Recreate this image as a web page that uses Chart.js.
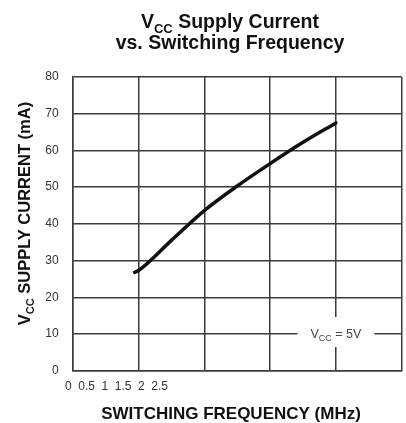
<!DOCTYPE html>
<html>
<head>
<meta charset="utf-8">
<script src="https://cdn.jsdelivr.net/npm/chart.js@4"></script>
<style>
  html, body { margin: 0; padding: 0; background: #fff; }
  #wrap { width: 406px; height: 423px; position: relative; }
</style>
</head>
<body>
<div id="wrap"><canvas id="chart"></canvas></div>
<script>
// curve (MHz -> mA)
const freqMHz = [0.47, 0.5, 0.75, 1.0, 1.25, 1.5, 1.75, 2.0];
const supplyMA = [26.8, 27.3, 35.5, 43.6, 50.3, 56.4, 62.2, 67.5];

// the bottom tick labels sit bunched up at the left in the original
const xTickValues = [0, 0.5, 1, 1.5, 2, 2.5];
const xTickLabels = ['0', '0.5', '1', '1.5', '2', '2.5'];
const yTicks = [0, 10, 20, 30, 40, 50, 60, 70, 80];

const FONT = "'Liberation Sans', Arial, Helvetica, sans-serif";
const GRID = '#3c3c3c';

// draws text runs like ['V', {sub:'CC'}, ' Supply Current'] centred on x
function drawRuns(ctx, runs, x, y, size, weight, color) {
  const subSize = Math.round(size * 0.68);
  const widths = runs.map(r => {
    if (typeof r === 'string') { ctx.font = `${weight} ${size}px ${FONT}`; return ctx.measureText(r).width; }
    ctx.font = `${weight} ${subSize}px ${FONT}`;
    return ctx.measureText(r.sub).width;
  });
  let cx = x - widths.reduce((a, b) => a + b, 0) / 2;
  ctx.fillStyle = color;
  ctx.textAlign = 'left';
  ctx.textBaseline = 'alphabetic';
  runs.forEach((r, i) => {
    if (typeof r === 'string') {
      ctx.font = `${weight} ${size}px ${FONT}`;
      ctx.fillText(r, cx, y);
    } else {
      ctx.font = `${weight} ${subSize}px ${FONT}`;
      ctx.fillText(r.sub, cx, y + size * 0.25);
    }
    cx += widths[i];
  });
}

const textPlugin = {
  id: 'texts',
  afterDraw(chart) {
    const ctx = chart.ctx;
    ctx.save();
    drawRuns(ctx, ['V', { sub: 'CC' }, ' Supply Current'], 230, 28, 19.5, 'bold', '#111');
    drawRuns(ctx, ['vs. Switching Frequency'], 230, 48.5, 19.5, 'bold', '#111');
    drawRuns(ctx, ['SWITCHING FREQUENCY (MHz)'], 231, 419, 17, 'bold', '#111');

    ctx.save();
    ctx.translate(29.5, 213.5);
    ctx.rotate(-Math.PI / 2);
    drawRuns(ctx, ['V', { sub: 'CC' }, ' SUPPLY CURRENT (mA)'], 0, 0, 16.5, 'bold', '#111');
    ctx.restore();

    // V_CC = 5V note sitting on the grid
    const px = chart.scales.x.getPixelForValue(2.0);
    const py = chart.scales.y.getPixelForValue(10);
    ctx.fillStyle = '#fff';
    ctx.fillRect(px - 38.5, py - 17, 77, 30);
    drawRuns(ctx, ['V', { sub: 'CC' }, ' = 5V'], px, py + 4, 12.5, 'normal', '#444');
    ctx.restore();
  }
};

new Chart(document.getElementById('chart'), {
  type: 'line',
  data: {
    datasets: [{
      data: freqMHz.map((f, i) => ({ x: f, y: supplyMA[i] })),
      borderColor: '#111',
      borderWidth: 3.5,
      pointRadius: 0,
      cubicInterpolationMode: 'monotone',
      borderCapStyle: 'round',
      fill: false
    }]
  },
  options: {
    animation: false,
    responsive: true,
    maintainAspectRatio: false,
    layout: { padding: { top: 77, right: 4.3, left: 0, bottom: 0 } },
    plugins: { legend: { display: false }, tooltip: { enabled: false } },
    scales: {
      x: {
        type: 'linear',
        position: 'bottom',
        weight: 0,
        min: 0,
        max: 2.5,
        ticks: { display: false, stepSize: 0.5 },
        grid: { color: GRID, lineWidth: 1.5, drawTicks: false },
        border: { display: true, color: GRID, width: 1.5 },
        afterFit: s => { s.height = 0; }
      },
      x2: {
        type: 'linear',
        position: 'bottom',
        weight: 1,
        bounds: 'data',
        min: 0.12,
        max: 9.12,
        afterBuildTicks: s => { s.ticks = xTickValues.map(v => ({ value: v })); },
        ticks: {
          autoSkip: false,
          maxRotation: 0,
          padding: 9,
          color: '#333',
          font: { family: FONT, size: 12 },
          callback: (v) => xTickLabels[xTickValues.indexOf(v)] ?? ''
        },
        grid: { display: false, drawTicks: false },
        border: { display: false },
        afterFit: s => { s.height = 52.3; },
        afterDataLimits: s => { s.min = 0.12; s.max = 9.12; }
      },
      y: {
        min: 0,
        max: 80,
        afterBuildTicks: s => { s.ticks = yTicks.map(v => ({ value: v })); },
        ticks: {
          padding: 14,
          color: '#333',
          font: { family: FONT, size: 12 }
        },
        grid: { color: GRID, lineWidth: 1.5, drawTicks: false },
        border: { display: true, color: GRID, width: 1.5 },
        afterFit: s => { s.width = 72.7; }
      }
    }
  },
  plugins: [textPlugin]
});
</script>
</body>
</html>
